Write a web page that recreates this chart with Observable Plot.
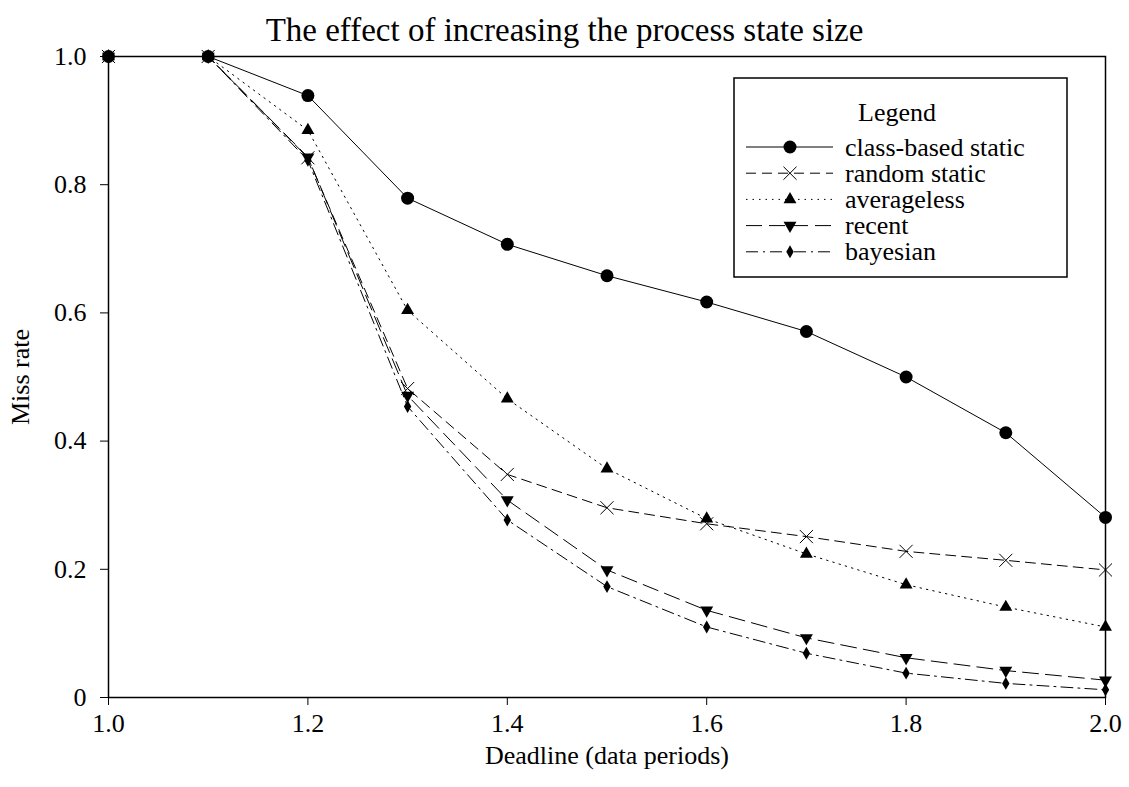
<!DOCTYPE html>
<html><head><meta charset="utf-8">
<script src="https://cdn.jsdelivr.net/npm/d3@7"></script>
<script src="https://cdn.jsdelivr.net/npm/@observablehq/plot@0.6"></script>
<style>
body{margin:0;background:#fff;font-family:"Liberation Serif","Times New Roman",serif;}
#title{height:44px;box-sizing:border-box;padding-top:13px;text-align:center;font-size:33px;line-height:34px;width:1129px;color:#000;white-space:nowrap;}
#chart svg{display:block;}
</style></head><body>
<div id="title">The effect of increasing the process state size</div>
<div id="chart"></div>
<script>
const deadlines = [1.0, 1.1, 1.2, 1.3, 1.4, 1.5, 1.6, 1.7, 1.8, 1.9, 2.0];
const seriesNames = ["class-based static", "random static", "averageless", "recent", "bayesian"];
const classBased   = [1.0, 1.0, 0.939, 0.779, 0.707, 0.658, 0.617, 0.571, 0.500, 0.413, 0.281];
const randomStatic = [1.0, 1.0, 0.842, 0.482, 0.348, 0.296, 0.271, 0.251, 0.228, 0.214, 0.199];
const averageless  = [1.0, 1.0, 0.885, 0.604, 0.466, 0.357, 0.279, 0.224, 0.176, 0.141, 0.110];
const recent       = [1.0, 1.0, 0.843, 0.471, 0.308, 0.199, 0.136, 0.093, 0.062, 0.042, 0.027];
const bayesian     = [1.0, 1.0, 0.838, 0.454, 0.277, 0.173, 0.110, 0.069, 0.038, 0.022, 0.012];
const xTicks = [1.0, 1.2, 1.4, 1.6, 1.8, 2.0];
const xTickLabels = ["1.0", "1.2", "1.4", "1.6", "1.8", "2.0"];
const yTicks = [0, 0.2, 0.4, 0.6, 0.8, 1.0];
const yTickLabels = ["0", "0.2", "0.4", "0.6", "0.8", "1.0"];
const legendTitle = "Legend";

const seriesValues = [classBased, randomStatic, averageless, recent, bayesian];
const table = seriesNames.flatMap((name, s) => deadlines.map((d, i) => ({series: name, deadline: d, rate: seriesValues[s][i]})));

const triangleDown = {
  draw(ctx, size) {
    const y = -Math.sqrt(size / (Math.sqrt(3) * 3));
    ctx.moveTo(0, -y * 2);
    ctx.lineTo(-Math.sqrt(3) * y, y);
    ctx.lineTo(Math.sqrt(3) * y, y);
    ctx.closePath();
  }
};

const styles = [
  {dash: null, symbol: d3.symbolCircle, plotSymbol: "circle", r: 6.5, fill: "black", stroke: "none"},
  {dash: "10,6", symbol: d3.symbolTimes, plotSymbol: "times", r: 6, fill: "none", stroke: "black"},
  {dash: "1.5,5", symbol: d3.symbolTriangle, plotSymbol: "triangle", r: 4.8, fill: "black", stroke: "none"},
  {dash: "16,7", symbol: triangleDown, plotSymbol: triangleDown, r: 4.8, fill: "black", stroke: "none"},
  {dash: "12,5,2,5", symbol: d3.symbolDiamond, plotSymbol: "diamond", r: 3.9, fill: "black", stroke: "none"}
];

const marks = [];
seriesNames.forEach((name, s) => {
  const st = styles[s];
  const rows = table.filter(d => d.series === name);
  marks.push(Plot.line(rows, {x: "deadline", y: "rate", stroke: "black", strokeWidth: 1, strokeDasharray: st.dash}));
});
seriesNames.forEach((name, s) => {
  const st = styles[s];
  const rows = table.filter(d => d.series === name);
  marks.push(Plot.dot(rows, {x: "deadline", y: "rate", symbol: () => st.plotSymbol, r: st.r, fill: st.fill, stroke: st.stroke, strokeWidth: 1}));
});
marks.push(Plot.frame({stroke: "black", strokeWidth: 1.5}));

const plot = Plot.plot({
  width: 1129, height: 743,
  marginLeft: 108, marginRight: 24, marginTop: 12, marginBottom: 90,
  style: {fontFamily: "'Liberation Serif', 'Times New Roman', serif", fontSize: "26px", background: "white", color: "black", overflow: "visible"},
  x: {domain: [1, 2], ticks: xTicks, tickFormat: d => xTickLabels[xTicks.indexOf(d)], tickSize: 8, tickPadding: 8,
      label: "Deadline (data periods)", labelAnchor: "center", labelArrow: "none", labelOffset: 66},
  y: {domain: [0, 1], ticks: yTicks, tickFormat: d => yTickLabels[yTicks.indexOf(d)], tickSize: 8, tickPadding: 14,
      label: "Miss rate", labelAnchor: "center", labelArrow: "none", labelOffset: 98},
  marks
});
document.getElementById("chart").appendChild(plot);

// Legend box inside the plot area
const svg = d3.select(plot);
const g = svg.append("g").attr("class", "legend")
  .attr("font-family", "'Liberation Serif', 'Times New Roman', serif").attr("font-size", 26).attr("text-anchor", "start");
const box = {x: 734, y: 34, w: 333, h: 199};
g.append("rect").attr("x", box.x).attr("y", box.y).attr("width", box.w).attr("height", box.h)
  .attr("fill", "white").attr("stroke", "black").attr("stroke-width", 1.5);
g.append("text").attr("x", 897).attr("y", 68).attr("text-anchor", "middle").attr("dominant-baseline", "central").text(legendTitle);
seriesNames.forEach((name, s) => {
  const st = styles[s];
  const cy = 103 + s * 26.2;
  g.append("line").attr("x1", 746).attr("x2", 833).attr("y1", cy).attr("y2", cy)
    .attr("stroke", "black").attr("stroke-width", 1).attr("stroke-dasharray", st.dash);
  g.append("path").attr("transform", `translate(790,${cy})`)
    .attr("d", d3.symbol(st.symbol, st.r * st.r * Math.PI)())
    .attr("fill", st.fill).attr("stroke", st.stroke).attr("stroke-width", 1);
  g.append("text").attr("x", 845).attr("y", cy).attr("text-anchor", "start").attr("dominant-baseline", "central").text(name);
});
</script>
</body></html>
